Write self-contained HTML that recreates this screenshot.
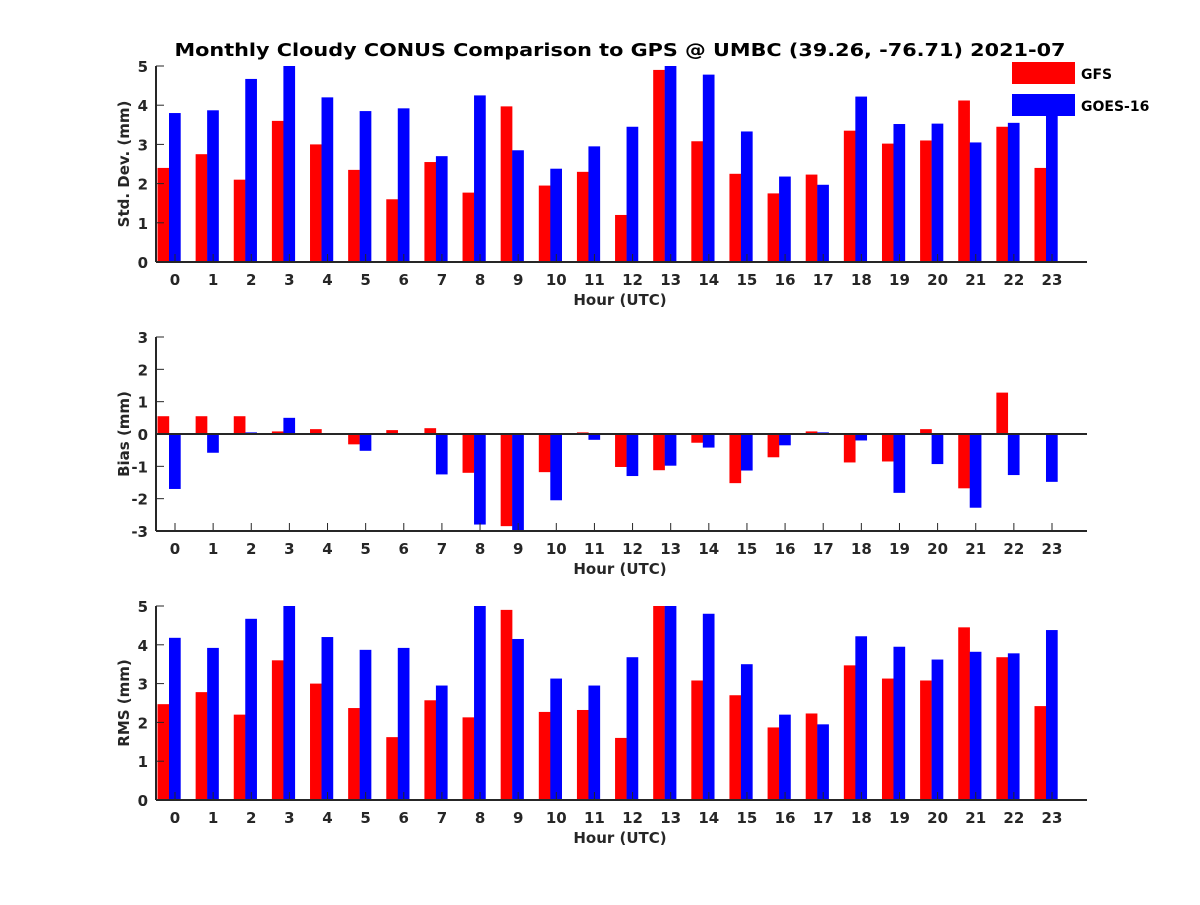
<!DOCTYPE html>
<html><head><meta charset="utf-8"><style>
body{margin:0;background:#fff}
text{font-family:"DejaVu Sans","Liberation Sans",sans-serif;font-weight:bold;fill:#262626}
</style></head><body>
<svg id="c" width="1200" height="900" xmlns="http://www.w3.org/2000/svg">
<rect width="1200" height="900" fill="#fff"/>
<text x="620" y="56" font-size="18" text-anchor="middle" textLength="891" lengthAdjust="spacingAndGlyphs" fill="#000" style="fill:#000">Monthly Cloudy CONUS Comparison to GPS @ UMBC (39.26, -76.71) 2021-07</text>
</svg>
<script>
const hours=[...Array(24).keys()];
const stdGFS=[2.4,2.75,2.1,3.6,3.0,2.35,1.6,2.55,1.77,3.97,1.95,2.3,1.2,4.9,3.08,2.25,1.75,2.23,3.35,3.02,3.1,4.12,3.45,2.4];
const stdGOES=[3.8,3.87,4.67,5,4.2,3.85,3.92,2.7,4.25,2.85,2.38,2.95,3.45,5,4.78,3.33,2.18,1.97,4.22,3.52,3.53,3.05,3.55,4.1];
const biasGFS=[0.55,0.55,0.55,0.08,0.15,-0.32,0.12,0.18,-1.2,-2.85,-1.18,0.05,-1.02,-1.12,-0.27,-1.52,-0.72,0.08,-0.88,-0.85,0.15,-1.68,1.28,0];
const biasGOES=[-1.7,-0.58,0.05,0.5,0,-0.52,0,-1.25,-2.8,-3,-2.05,-0.18,-1.3,-0.98,-0.42,-1.13,-0.35,0.05,-0.2,-1.82,-0.93,-2.28,-1.27,-1.48];
const rmsGFS=[2.47,2.78,2.2,3.6,3.0,2.37,1.62,2.57,2.13,4.9,2.27,2.32,1.6,5,3.08,2.7,1.87,2.23,3.47,3.13,3.08,4.45,3.68,2.42];
const rmsGOES=[4.18,3.92,4.67,5,4.2,3.87,3.92,2.95,5,4.15,3.13,2.95,3.68,5,4.8,3.5,2.2,1.95,4.22,3.95,3.62,3.82,3.78,4.38];
const stdTicks=[0,1,2,3,4,5], biasTicks=[-3,-2,-1,0,1,2,3], rmsTicks=[0,1,2,3,4,5];
const svg=document.getElementById('c');
const NS='http://www.w3.org/2000/svg';
function mk(tag,attrs,parent){const e=document.createElementNS(NS,tag);for(const k in attrs)e.setAttribute(k,attrs[k]);(parent||svg).appendChild(e);return e;}
const xl=156,xr=1087;
const xc=h=>175+h*38.13;
function panel(name,top,bot,ymin,ymax,ticks,red,blue,ylabel){
  const g=mk('g',{});
  
  
  const y=v=>bot-(v-ymin)/(ymax-ymin)*(bot-top);
  const base=y(Math.max(ymin,0));
  hours.forEach(h=>{
    const gc=xc(h)-6;
    [[red[h],'#ff0000',gc-11.5,'gfs'],[blue[h],'#0000ff',gc,'goes16']].forEach(([v,col,x0,s])=>{
      const vc=Math.max(ymin,Math.min(ymax,v));
      const r=mk('rect',{x:x0,width:11.7,y:Math.min(y(vc),base),height:Math.abs(y(vc)-base),fill:col},g);
      
      
    });
    mk('line',{x1:xc(h),x2:xc(h),y1:bot,y2:bot-8,stroke:'#262626','stroke-width':1},g);
    const t=mk('text',{x:xc(h),y:bot+23,'font-size':15,'text-anchor':'middle'},g);
    t.textContent=h;
    
    
  });
  if(ymin<0) mk('line',{x1:xl,x2:xr,y1:base,y2:base,stroke:'#262626','stroke-width':2},g);
  ticks.forEach(v=>{
    mk('line',{x1:xl,x2:xl+8,y1:y(v),y2:y(v),stroke:'#262626','stroke-width':1},g);
    const t=mk('text',{x:xl-8,y:y(v)+6,'font-size':15,'text-anchor':'end'},g);
    t.textContent=v;
    
    
  });
  mk('line',{x1:xl,x2:xl,y1:top,y2:bot,stroke:'#262626','stroke-width':2},g);
  mk('line',{x1:xl,x2:xr,y1:bot,y2:bot,stroke:'#262626','stroke-width':2},g);
  const xt=mk('text',{x:620,y:bot+43,'font-size':15,'text-anchor':'middle'},g);
  xt.textContent='Hour (UTC)';
  
  
  const yt=mk('text',{x:0,y:0,'font-size':15,'text-anchor':'middle',transform:`translate(129,${(top+bot)/2}) rotate(-90)`},g);
  yt.textContent=ylabel;
  
  
}
panel('std-dev',66,262,0,5,stdTicks,stdGFS,stdGOES,'Std. Dev. (mm)');
panel('bias',337,531,-3,3,biasTicks,biasGFS,biasGOES,'Bias (mm)');
panel('rms',606,800,0,5,rmsTicks,rmsGFS,rmsGOES,'RMS (mm)');
const lg=mk('g',{});


[['GFS','#ff0000',62],['GOES-16','#0000ff',94]].forEach(([n,c,yy])=>{
  const r=mk('rect',{x:1012,y:yy,width:63,height:22,fill:c},lg);
  
  
  const t=mk('text',{x:1081,y:yy+17,'font-size':14,fill:'#000',style:'fill:#000'},lg);
  t.textContent=n;
  
  
});
</script>
</body></html>
